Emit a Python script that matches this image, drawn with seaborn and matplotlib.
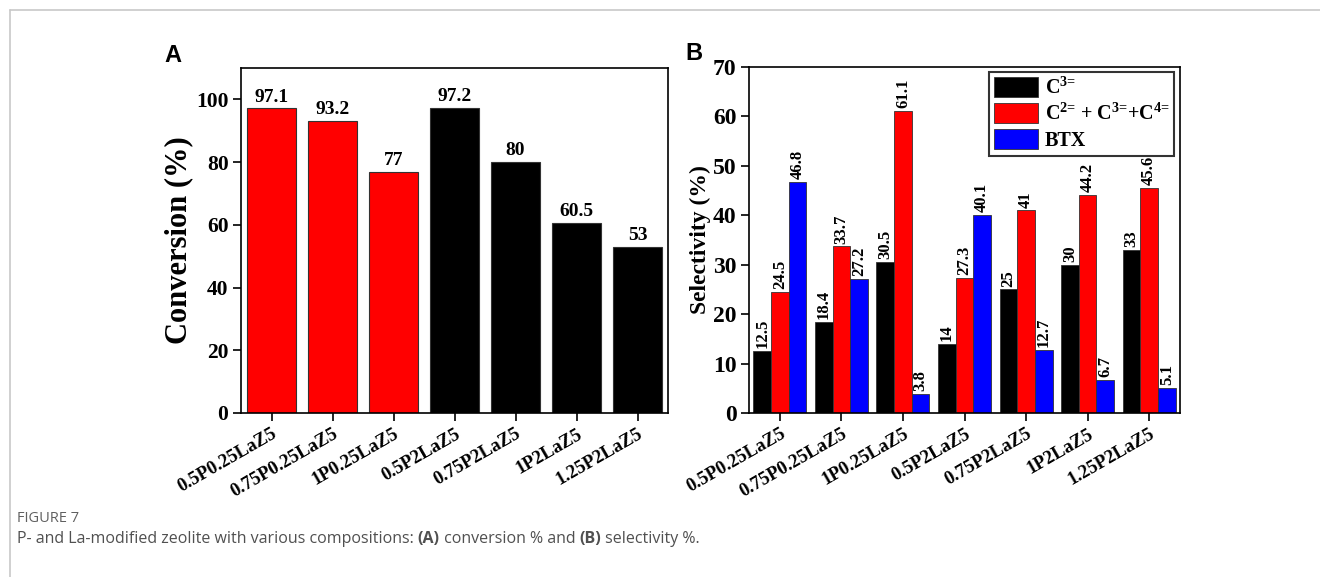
import matplotlib
matplotlib.use("Agg")
import matplotlib.pyplot as plt
from matplotlib.lines import Line2D
import seaborn as sns
import pandas as pd

# ---- data ----
samples = ["0.5P0.25LaZ5", "0.75P0.25LaZ5", "1P0.25LaZ5", "0.5P2LaZ5",
           "0.75P2LaZ5", "1P2LaZ5", "1.25P2LaZ5"]
conversion = [97.1, 93.2, 77, 97.2, 80, 60.5, 53]
conversion_colors = ["#ff0000", "#ff0000", "#ff0000", "#000000",
                     "#000000", "#000000", "#000000"]

series_names = [r"C$^{3\text{=}}$",
                r"C$^{2\text{=}}$ + C$^{3\text{=}}$+C$^{4\text{=}}$",
                "BTX"]
series_colors = ["#000000", "#ff0000", "#0000ff"]
sel_c3 = [12.5, 18.4, 30.5, 14, 25, 30, 33]
sel_c234 = [24.5, 33.7, 61.1, 27.3, 41, 44.2, 45.6]
sel_btx = [46.8, 27.2, 3.8, 40.1, 12.7, 6.7, 5.1]

sns.set_theme(style="white")
plt.rcParams["font.family"] = ["Liberation Serif", "DejaVu Serif"]
plt.rcParams["font.weight"] = "bold"
plt.rcParams["text.color"] = "black"
plt.rcParams["axes.labelcolor"] = "black"
plt.rcParams["xtick.color"] = "black"
plt.rcParams["ytick.color"] = "black"
plt.rcParams["mathtext.fontset"] = "custom"
plt.rcParams["mathtext.rm"] = "Liberation Serif:bold"
plt.rcParams["mathtext.it"] = "Liberation Serif:bold"
plt.rcParams["mathtext.bf"] = "Liberation Serif:bold"

W, H = 1320, 577
fig = plt.figure(figsize=(W / 100, H / 100), dpi=100)
fig.patch.set_facecolor("white")


def px_rect(x0, y0, x1, y1):
    return [x0 / W, 1 - y1 / H, (x1 - x0) / W, (y1 - y0) / H]


axA = fig.add_axes(px_rect(241, 68, 668, 413))
axB = fig.add_axes(px_rect(749, 67, 1180, 413))


def style_axes(ax, ysize):
    for sp in ax.spines.values():
        sp.set_visible(True)
        sp.set_color("black")
        sp.set_linewidth(1.2)
    ax.tick_params(axis="both", direction="out", length=6, width=1.2,
                   color="black", labelcolor="black",
                   bottom=True, left=True, pad=3)
    ax.tick_params(axis="y", labelsize=ysize)
    for lab in ax.get_yticklabels():
        lab.set_fontweight("bold")
    ax.set_xticks(range(len(samples)))
    ax.set_xticklabels(samples, rotation=30, ha="right", va="top",
                       rotation_mode="anchor", fontsize=13.5, fontweight="bold")
    ax.set_xlabel("")
    ax.grid(False)


# ---- panel A: conversion ----
dfA = pd.DataFrame({"sample": samples, "conversion": conversion})
sns.barplot(data=dfA, x="sample", y="conversion", hue="sample",
            palette=conversion_colors, saturation=1, width=0.8, legend=False,
            edgecolor="#333333", linewidth=0.8, ax=axA)
axA.set_ylim(0, 110)
axA.set_xlim(-0.5, len(samples) - 0.5)
axA.set_yticks(range(0, 101, 20))
style_axes(axA, 15.5)
axA.set_ylabel("Conversion (%)", fontsize=22, fontweight="bold", labelpad=2)
for cont in axA.containers:
    axA.bar_label(cont, labels=[f"{v:g}" for v in cont.datavalues],
                  fontsize=14, fontweight="bold", padding=2)

# ---- panel B: selectivity ----
dfB = pd.DataFrame({
    "sample": samples * 3,
    "series": [series_names[0]] * 7 + [series_names[1]] * 7 + [series_names[2]] * 7,
    "value": sel_c3 + sel_c234 + sel_btx,
})
sns.barplot(data=dfB, x="sample", y="value", hue="series",
            hue_order=series_names, palette=series_colors, saturation=1,
            width=0.86, edgecolor="#333333", linewidth=0.6, ax=axB)
axB.set_ylim(0, 70)
axB.set_xlim(-0.5, len(samples) - 0.5)
axB.set_yticks(range(0, 71, 10))
style_axes(axB, 17)
axB.set_ylabel("Selectivity (%)", fontsize=17, fontweight="bold", labelpad=1)
for cont in axB.containers:
    axB.bar_label(cont, labels=[f"{v:g}" for v in cont.datavalues],
                  rotation=90, fontsize=12, fontweight="bold", padding=2)

leg = axB.legend(loc="upper right", bbox_to_anchor=(0.996, 0.997),
                 prop={"family": "Liberation Serif", "weight": "bold", "size": 14.5},
                 frameon=True, fancybox=False, edgecolor="black",
                 handlelength=2.2, handleheight=1.15, handletextpad=0.3,
                 labelspacing=0.2, borderpad=0.25, borderaxespad=0.2)
leg.get_frame().set_linewidth(1.5)

# ---- panel letters ----
fig.text(173 / W, 1 - 55 / H, "A", family="Liberation Sans", weight="bold",
         fontsize=17, ha="center", va="center")
fig.text(694 / W, 1 - 54 / H, "B", family="Liberation Sans", weight="bold",
         fontsize=17, ha="center", va="center")

# ---- frame lines ----
fig.add_artist(Line2D([9.5 / W, 1], [1 - 10 / H, 1 - 10 / H],
                      transform=fig.transFigure, color="#c8c8c8", lw=1.2))
fig.add_artist(Line2D([9.5 / W, 9.5 / W], [0, 1 - 10 / H],
                      transform=fig.transFigure, color="#c8c8c8", lw=1.2))

# ---- caption ----
cap_font = ["Open Sans", "DejaVu Sans"]
fig.text(17 / W, 1 - 519 / H, "FIGURE 7", family=cap_font, fontsize=10.5,
         color="#606060", weight="normal", va="center", ha="left")

pieces = [("P- and La-modified zeolite with various compositions: ", "normal"),
          ("(A)", "bold"),
          (" conversion % and ", "normal"),
          ("(B)", "bold"),
          (" selectivity %.", "normal")]
renderer = fig.canvas.get_renderer()
x = 17 / W
for txt, wt in pieces:
    t = fig.text(x, 1 - 539 / H, txt, family=cap_font, fontsize=11.5,
                 color="#505050", weight=wt, va="center", ha="left")
    bb = t.get_window_extent(renderer=renderer)
    x = bb.x1 / W

fig.savefig("out.png", dpi=100, facecolor="white")
